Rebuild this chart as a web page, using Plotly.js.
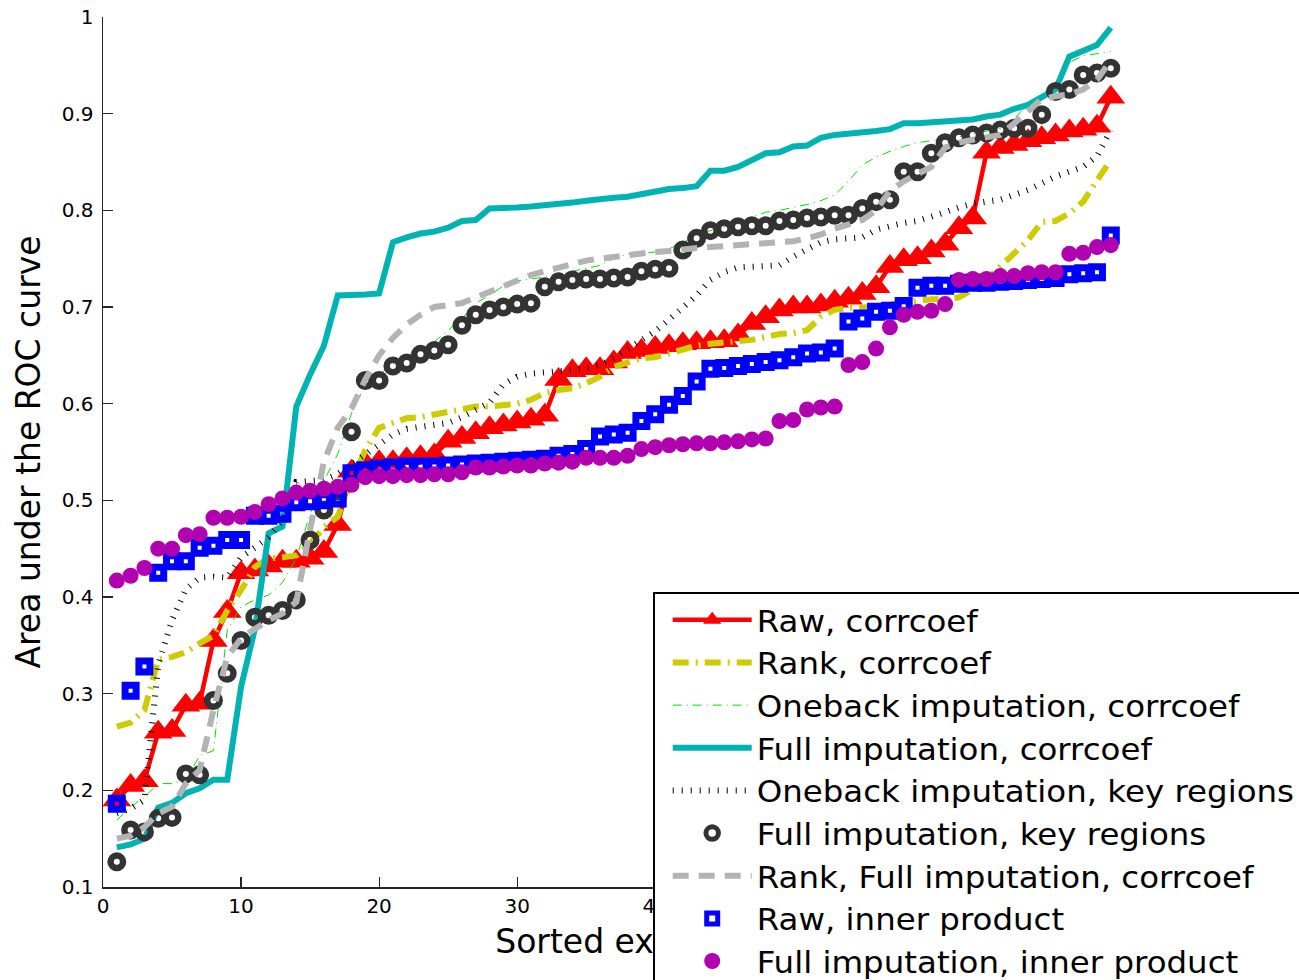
<!DOCTYPE html>
<html>
<head>
<meta charset="utf-8">
<script src="https://cdn.plot.ly/plotly-3.0.1.min.js"></script>
<style>
  html, body { margin: 0; padding: 0; overflow: hidden; background: #fff; }
  #chart { width: 1400px; height: 1050px; }
  .legendtext { transform-box: fill-box; transform-origin: 0% 50%; transform: scaleX(1.064); }
</style>
</head>
<body>
<div id="chart"></div>
<script>
// Sorted example index
const exampleIndex = [1,2,3,4,5,6,7,8,9,10,11,12,13,14,15,16,17,18,19,20,21,22,23,24,25,26,27,28,29,30,31,32,33,34,35,36,37,38,39,40,41,42,43,44,45,46,47,48,49,50,51,52,53,54,55,56,57,58,59,60,61,62,63,64,65,66,67,68,69,70,71,72,73];

const seriesNames = [
  "Raw, corrcoef",
  "Rank, corrcoef",
  "Oneback imputation, corrcoef",
  "Full imputation, corrcoef",
  "Oneback imputation, key regions",
  "Full imputation, key regions",
  "Rank, Full imputation, corrcoef",
  "Raw, inner product",
  "Full imputation, inner product"
];

const rawCorrcoef = [0.19,0.205,0.21,0.26,0.262,0.288,0.29,0.355,0.385,0.425,
  0.428,0.432,0.437,0.437,0.44,0.447,0.475,0.53,0.538,0.54,
  0.54,0.543,0.545,0.547,0.561,0.565,0.57,0.575,0.578,0.581,
  0.584,0.588,0.625,0.634,0.636,0.636,0.643,0.653,0.655,0.658,
  0.66,0.662,0.663,0.664,0.665,0.671,0.683,0.69,0.697,0.7,
  0.7,0.702,0.706,0.709,0.714,0.721,0.742,0.749,0.751,0.758,
  0.765,0.782,0.792,0.86,0.865,0.868,0.872,0.875,0.878,0.882,
  0.884,0.887,0.917];

const rankCorrcoef = [0.266,0.27,0.283,0.335,0.338,0.343,0.352,0.36,0.386,0.407,
  0.431,0.44,0.441,0.443,0.455,0.472,0.483,0.52,0.552,0.575,
  0.58,0.585,0.586,0.589,0.592,0.595,0.597,0.597,0.599,0.6,
  0.604,0.611,0.614,0.616,0.621,0.628,0.638,0.643,0.647,0.648,
  0.652,0.656,0.66,0.662,0.663,0.664,0.666,0.669,0.672,0.673,
  0.676,0.69,0.697,0.699,0.7,0.7,0.703,0.705,0.707,0.708,
  0.708,0.71,0.718,0.728,0.742,0.755,0.769,0.788,0.789,0.797,
  0.809,0.831,0.852];

const onebackCorrcoef = [0.169,0.183,0.193,0.207,0.207,0.21,0.236,0.241,0.366,0.39,
  0.397,0.402,0.415,0.44,0.486,0.52,0.548,0.59,0.62,0.63,
  0.641,0.65,0.656,0.664,0.676,0.688,0.704,0.712,0.722,0.727,
  0.729,0.731,0.735,0.737,0.74,0.743,0.75,0.755,0.755,0.757,
  0.76,0.767,0.774,0.779,0.783,0.786,0.793,0.798,0.8,0.803,
  0.806,0.81,0.816,0.83,0.847,0.855,0.861,0.866,0.87,0.872,
  0.874,0.876,0.879,0.882,0.885,0.894,0.911,0.92,0.932,0.953,
  0.96,0.962,0.964];

const fullCorrcoef = [0.141,0.144,0.15,0.182,0.187,0.197,0.202,0.211,0.211,0.307,
  0.367,0.466,0.473,0.597,0.63,0.66,0.712,0.712,0.713,0.714,
  0.767,0.772,0.776,0.778,0.782,0.789,0.79,0.802,0.802,0.803,
  0.804,0.805,0.806,0.808,0.81,0.812,0.813,0.814,0.817,0.819,
  0.822,0.823,0.825,0.841,0.841,0.845,0.852,0.859,0.86,0.866,
  0.867,0.875,0.878,0.879,0.881,0.882,0.884,0.89,0.89,0.891,
  0.892,0.893,0.894,0.897,0.899,0.905,0.909,0.917,0.925,0.959,
  0.965,0.971,0.989];

const onebackKeyRegions = [0.176,0.181,0.19,0.33,0.376,0.408,0.42,0.421,0.42,0.441,
  0.451,0.462,0.479,0.519,0.52,0.521,0.527,0.537,0.547,0.558,
  0.568,0.574,0.576,0.577,0.58,0.586,0.594,0.601,0.62,0.628,
  0.631,0.632,0.633,0.635,0.637,0.64,0.647,0.656,0.666,0.675,
  0.687,0.699,0.712,0.728,0.736,0.741,0.742,0.742,0.743,0.752,
  0.76,0.767,0.77,0.771,0.772,0.78,0.784,0.787,0.789,0.793,
  0.798,0.803,0.807,0.809,0.811,0.816,0.821,0.828,0.835,0.84,
  0.845,0.856,0.883];

const fullKeyRegions = [0.126,0.159,0.157,0.171,0.172,0.217,0.216,0.293,0.321,0.355,
  0.379,0.381,0.386,0.397,0.459,0.49,0.51,0.571,0.624,0.624,
  0.639,0.642,0.651,0.655,0.661,0.681,0.692,0.697,0.7,0.703,
  0.704,0.721,0.726,0.728,0.729,0.729,0.73,0.731,0.737,0.739,
  0.74,0.759,0.771,0.779,0.781,0.783,0.784,0.784,0.789,0.79,
  0.792,0.793,0.795,0.795,0.802,0.809,0.811,0.84,0.84,0.859,
  0.87,0.875,0.878,0.88,0.883,0.885,0.885,0.899,0.923,0.925,
  0.94,0.942,0.947];

const rankFullCorrcoef = [0.15,0.153,0.162,0.176,0.183,0.207,0.221,0.283,0.338,0.357,
  0.367,0.376,0.383,0.395,0.47,0.54,0.575,0.595,0.625,0.65,
  0.668,0.682,0.692,0.7,0.702,0.704,0.71,0.716,0.722,0.727,
  0.733,0.737,0.741,0.745,0.748,0.75,0.752,0.754,0.755,0.757,
  0.758,0.76,0.761,0.762,0.763,0.764,0.765,0.765,0.766,0.768,
  0.771,0.775,0.781,0.786,0.79,0.8,0.82,0.83,0.838,0.845,
  0.865,0.87,0.873,0.875,0.878,0.89,0.902,0.915,0.918,0.92,
  0.925,0.935,0.955];

const rawInnerProduct = [0.186,0.303,0.328,0.425,0.437,0.437,0.451,0.453,0.459,0.459,
  0.484,0.484,0.486,0.498,0.499,0.5,0.502,0.528,0.531,0.533,
  0.534,0.535,0.535,0.535,0.536,0.537,0.538,0.539,0.54,0.541,
  0.542,0.543,0.546,0.548,0.553,0.566,0.568,0.57,0.582,0.589,
  0.599,0.608,0.623,0.636,0.637,0.639,0.641,0.643,0.645,0.648,
  0.652,0.653,0.657,0.685,0.688,0.695,0.696,0.701,0.72,0.722,
  0.722,0.724,0.725,0.725,0.726,0.727,0.728,0.729,0.73,0.734,
  0.735,0.736,0.774];

const fullInnerProduct = [0.417,0.422,0.43,0.45,0.45,0.464,0.465,0.482,0.482,0.483,
  0.488,0.496,0.502,0.508,0.51,0.512,0.514,0.516,0.524,0.525,
  0.525,0.526,0.526,0.527,0.527,0.529,0.534,0.534,0.535,0.536,
  0.536,0.538,0.539,0.54,0.544,0.544,0.544,0.546,0.553,0.555,
  0.557,0.558,0.559,0.559,0.56,0.561,0.563,0.564,0.582,0.583,
  0.594,0.596,0.597,0.64,0.643,0.657,0.679,0.692,0.695,0.696,
  0.703,0.728,0.729,0.729,0.732,0.732,0.735,0.736,0.736,0.755,
  0.756,0.762,0.764];

const yTickVals = [0.1,0.2,0.3,0.4,0.5,0.6,0.7,0.8,0.9,1.0];
const yTickText = ["0.1","0.2","0.3","0.4","0.5","0.6","0.7","0.8","0.9","1"];
const xTickVals = [0,10,20,30,40];
const xTickText = ["0","10","20","30","40"];

const FONT = "DejaVu Sans, Liberation Sans, Arial, sans-serif";

const traces = [
  { x: exampleIndex, y: rawCorrcoef, name: seriesNames[0], mode: "lines+markers",
    line: { color: "#ff0000", width: 4.5 },
    marker: { symbol: "triangle-up", size: 25, color: "#ff0000", line: { width: 0 } } },
  { x: exampleIndex, y: rankCorrcoef, name: seriesNames[1], mode: "lines",
    line: { color: "#cccc00", width: 6, dash: "16px,7px,2px,7px" } },
  { x: exampleIndex, y: onebackCorrcoef, name: seriesNames[2], mode: "lines",
    line: { color: "#00e000", width: 1, dash: "9px,5px,1px,5px" } },
  { x: exampleIndex, y: fullCorrcoef, name: seriesNames[3], mode: "lines",
    line: { color: "#00b3b3", width: 6 } },
  { x: exampleIndex, y: onebackKeyRegions, name: seriesNames[4], mode: "lines",
    line: { color: "#000000", width: 6, dash: "1px,8px" } },
  { x: exampleIndex, y: fullKeyRegions, name: seriesNames[5], mode: "markers",
    marker: { symbol: "circle-open", size: 12.5, color: "#333333", line: { width: 6.5 } } },
  { x: exampleIndex, y: rankFullCorrcoef, name: seriesNames[6], mode: "lines",
    line: { color: "#b3b3b3", width: 6, dash: "16px,10px" } },
  { x: exampleIndex, y: rawInnerProduct, name: seriesNames[7], mode: "markers",
    marker: { symbol: "square-open", size: 11, color: "#0000ff", line: { width: 7 } } },
  { x: exampleIndex, y: fullInnerProduct, name: seriesNames[8], mode: "markers",
    marker: { symbol: "circle", size: 16, color: "#b000b0", line: { width: 0 } } }
];

const W = 1400, H = 1050;
const L = 103, T = 17;
const plotW = 1062.6, plotH = 870;

const layout = {
  width: W, height: H,
  margin: { l: L, t: T, r: W - L - plotW, b: H - T - plotH, pad: 0 },
  paper_bgcolor: "#ffffff", plot_bgcolor: "#ffffff",
  showlegend: true,
  font: { family: FONT, color: "#000000", size: 20 },
  xaxis: {
    range: [0, 77], showgrid: false, zeroline: false,
    showline: true, linecolor: "#262626", linewidth: 1.5, mirror: false,
    ticks: "inside", ticklen: 10, tickwidth: 1.2, tickcolor: "#262626",
    tickvals: xTickVals, ticktext: xTickText,
    tickfont: { family: FONT, size: 20, color: "#000" },
    title: { text: "Sorted examples", font: { family: FONT, size: 33, color: "#000" }, standoff: 13 }
  },
  yaxis: {
    range: [0.1, 1.0], showgrid: false, zeroline: false,
    showline: true, linecolor: "#262626", linewidth: 1.5, mirror: false,
    ticks: "inside", ticklen: 10, tickwidth: 1.2, tickcolor: "#262626",
    tickvals: yTickVals, ticktext: yTickText,
    tickfont: { family: FONT, size: 20, color: "#000" },
    ticklabelstandoff: 4,
    title: { text: "Area under the ROC curve", font: { family: FONT, size: 33, color: "#000" }, standoff: 11 }
  },
  legend: {
    x: (653 - L) / plotW, y: (887 - 592) / plotH, xanchor: "left", yanchor: "top",
    bgcolor: "#ffffff", bordercolor: "#000000", borderwidth: 1.5,
    font: { family: FONT, size: 30.5, color: "#000" },
    itemwidth: 79, indentation: 13, tracegroupgap: 0, traceorder: "normal"
  }
};

Plotly.newPlot("chart", traces, layout, { displayModeBar: false, staticPlot: true }).then(function (gd) {
  // keep the legend above the axis title, as in the original figure
  const leg = gd.querySelector(".legend");
  if (leg && leg.parentNode) leg.parentNode.appendChild(leg);
});
</script>
</body>
</html>
